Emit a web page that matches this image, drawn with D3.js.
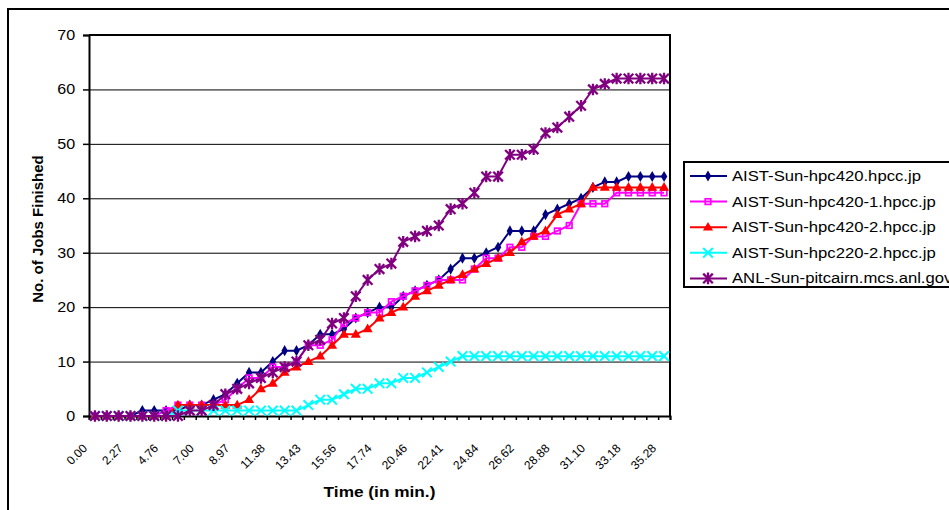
<!DOCTYPE html>
<html>
<head>
<meta charset="utf-8">
<script src="https://cdn.jsdelivr.net/npm/d3@7"></script>
<style>
  body { margin: 0; background: #fff; }
  text { font-family: "Liberation Sans", Arial, sans-serif; }
</style>
</head>
<body>
<div id="chart"></div>
<script>
// x tick labels (every 3rd sample), 49 samples in all
const tickLabels = ["0.00", "2.27", "4.76", "7.00", "8.97", "11.38", "13.43", "15.56", "17.74",
                    "20.46", "22.41", "24.84", "26.62", "28.88", "31.10", "33.18", "35.28"];
const sampleCount = 49;

const seriesNames = ["AIST-Sun-hpc420.hpcc.jp", "AIST-Sun-hpc420-1.hpcc.jp", "AIST-Sun-hpc420-2.hpcc.jp",
                     "AIST-Sun-hpc220-2.hpcc.jp", "ANL-Sun-pitcairn.mcs.anl.gov"];

const hpc420 = [0,0,0,0,1,1,1,1,2,2,3,4,6,8,8,10,12,12,13,15,15,16,18,19,20,20,22,23,24,25,
                27,29,29,30,31,34,34,34,37,38,39,40,42,43,43,44,44,44,44];
const hpc420_1 = [0,0,0,0,0,0,1,2,2,2,2,3,5,7,7,9,9,10,13,13,14,17,18,19,19,21,22,23,24,25,
                  25,25,27,29,29,31,31,33,33,34,35,39,39,39,41,41,41,41,41];
const hpc420_2 = [0,0,0,0,0,0,0,2,2,2,2,2,2,3,5,6,8,9,10,11,13,15,15,16,18,19,20,22,23,24,
                  25,26,27,28,29,30,32,33,34,37,38,39,42,42,42,42,42,42,42];
const hpc220_2 = [0,0,0,0,0,0,0,1,1,1,1,1,1,1,1,1,1,1,2,3,3,4,5,5,6,6,7,7,8,9,
                  10,11,11,11,11,11,11,11,11,11,11,11,11,11,11,11,11,11,11];
const pitcairn = [0,0,0,0,0,0,0,0,1,1,2,4,5,6,7,8,9,10,13,14,17,18,22,25,27,28,32,33,34,35,
                  38,39,41,44,44,48,48,49,52,53,55,57,60,61,62,62,62,62,62];

const yTicks = [0, 10, 20, 30, 40, 50, 60, 70];

const seriesData = [hpc420, hpc420_1, hpc420_2, hpc220_2, pitcairn];
const colors = ["#000080", "#ff00ff", "#ff0000", "#00ffff", "#800080"];
const markers = ["diamond", "square", "triangle", "x", "star"];

const width = 949, height = 510;
const plotLeft = 89, plotRight = 670, plotTop = 35, plotBottom = 416;
const stretch = 1.15; // the picture's text is a bit wider than plain Arial

const svg = d3.select("#chart").append("svg")
    .attr("width", width)
    .attr("height", height);

// outer chart frame
svg.append("rect")
    .attr("x", 8).attr("y", 9)
    .attr("width", 960).attr("height", 520)
    .attr("fill", "#fff")
    .attr("stroke", "#000")
    .attr("stroke-width", 2);

const x = d3.scaleBand().domain(d3.range(sampleCount)).range([plotLeft, plotRight]);
const xEdge = d3.scaleLinear().domain([0, sampleCount]).range([plotLeft, plotRight]);
const y = d3.scaleLinear().domain([0, 70]).range([plotBottom, plotTop]);
const cx = i => x(i) + x.bandwidth() / 2;

// gridlines
svg.append("g")
    .attr("transform", `translate(${plotLeft},0)`)
    .call(d3.axisLeft(y).tickValues(yTicks).tickSize(-(plotRight - plotLeft)).tickFormat(""))
    .call(g => g.select(".domain").remove())
    .call(g => g.selectAll("line").attr("stroke", "#000").attr("stroke-width", 1));

// y axis
svg.append("g")
    .attr("transform", `translate(${plotLeft},0)`)
    .call(d3.axisLeft(y).tickValues(yTicks).tickSize(6).tickPadding(6))
    .call(g => g.select(".domain").attr("stroke-width", 2))
    .call(g => g.selectAll("line").attr("stroke-width", 1.5))
    .call(g => g.selectAll("text")
        .style("font-size", "14px").attr("fill", "#000")
        .attr("transform", `scale(${stretch},1)`));

// x axis ticks at category boundaries
svg.append("g")
    .attr("transform", `translate(0,${plotBottom})`)
    .call(d3.axisBottom(xEdge).tickValues(d3.range(sampleCount + 1)).tickSize(4).tickFormat(""))
    .call(g => g.select(".domain").attr("stroke-width", 2))
    .call(g => g.selectAll("line").attr("stroke-width", 1.5));

// right and top plot border
svg.append("line").attr("x1", plotRight).attr("x2", plotRight).attr("y1", plotTop - 1).attr("y2", plotBottom)
    .attr("stroke", "#000").attr("stroke-width", 2);
svg.append("line").attr("x1", plotLeft).attr("x2", plotRight + 1).attr("y1", plotTop).attr("y2", plotTop)
    .attr("stroke", "#000").attr("stroke-width", 2);

// x tick labels, rotated
tickLabels.forEach((t, k) => {
    svg.append("text")
        .attr("transform", `translate(${cx(k * 3) - 7},${449}) rotate(-45)`)
        .attr("text-anchor", "end")
        .style("font-size", "12px")
        .text(t);
});

function drawMarker(g, type, px, py, color) {
    if (type === "diamond") {
        g.append("path").attr("d", d3.symbol(d3.symbolDiamond, 36)())
            .attr("transform", `translate(${px},${py})`).attr("fill", color);
    } else if (type === "square") {
        g.append("rect").attr("x", px - 2.8).attr("y", py - 2.8).attr("width", 5.6).attr("height", 5.6)
            .attr("fill", "none").attr("stroke", color).attr("stroke-width", 1.7);
    } else if (type === "triangle") {
        g.append("path").attr("d", d3.symbol(d3.symbolTriangle, 44)())
            .attr("transform", `translate(${px},${py + 0.5})`).attr("fill", color);
    } else if (type === "x") {
        const r = 4.8;
        g.append("path").attr("d", `M${px - r},${py - r}L${px + r},${py + r}M${px - r},${py + r}L${px + r},${py - r}`)
            .attr("stroke", color).attr("stroke-width", 2);
    } else if (type === "star") {
        const r = 4.8;
        g.append("path").attr("d", `M${px - r},${py - r}L${px + r},${py + r}M${px - r},${py + r}L${px + r},${py - r}M${px},${py - r - 1}L${px},${py + r + 1}`)
            .attr("stroke", color).attr("stroke-width", 2.3);
    }
}

const line = d3.line().x((d, i) => cx(i)).y(d => y(d));

seriesData.forEach((vals, s) => {
    const g = svg.append("g");
    g.append("path")
        .attr("d", line(vals))
        .attr("fill", "none")
        .attr("stroke", colors[s])
        .attr("stroke-width", 2);
    vals.forEach((v, i) => drawMarker(g, markers[s], cx(i), y(v), colors[s]));
});

// axis titles
svg.append("text")
    .attr("transform", `translate(43,${229}) rotate(-90)`)
    .attr("text-anchor", "middle")
    .style("font-size", "15px").style("font-weight", "bold")
    .text("No. of Jobs Finished");

svg.append("text")
    .attr("transform", `translate(${(plotLeft + plotRight) / 2},497) scale(${stretch},1)`)
    .attr("text-anchor", "middle")
    .style("font-size", "15px").style("font-weight", "bold")
    .text("Time (in min.)");

// legend
const legend = svg.append("g");
legend.append("rect")
    .attr("x", 684).attr("y", 162).attr("width", 300).attr("height", 125)
    .attr("fill", "#fff").attr("stroke", "#000").attr("stroke-width", 2);

seriesNames.forEach((name, s) => {
    const ly = 176 + s * 25.6;
    legend.append("line").attr("x1", 690).attr("x2", 727).attr("y1", ly).attr("y2", ly)
        .attr("stroke", colors[s]).attr("stroke-width", 2);
    drawMarker(legend, markers[s], 708, ly, colors[s]);
    legend.append("text")
        .attr("transform", `translate(732,${ly + 5}) scale(${stretch},1)`)
        .style("font-size", "14.5px")
        .text(name);
});
</script>
</body>
</html>
